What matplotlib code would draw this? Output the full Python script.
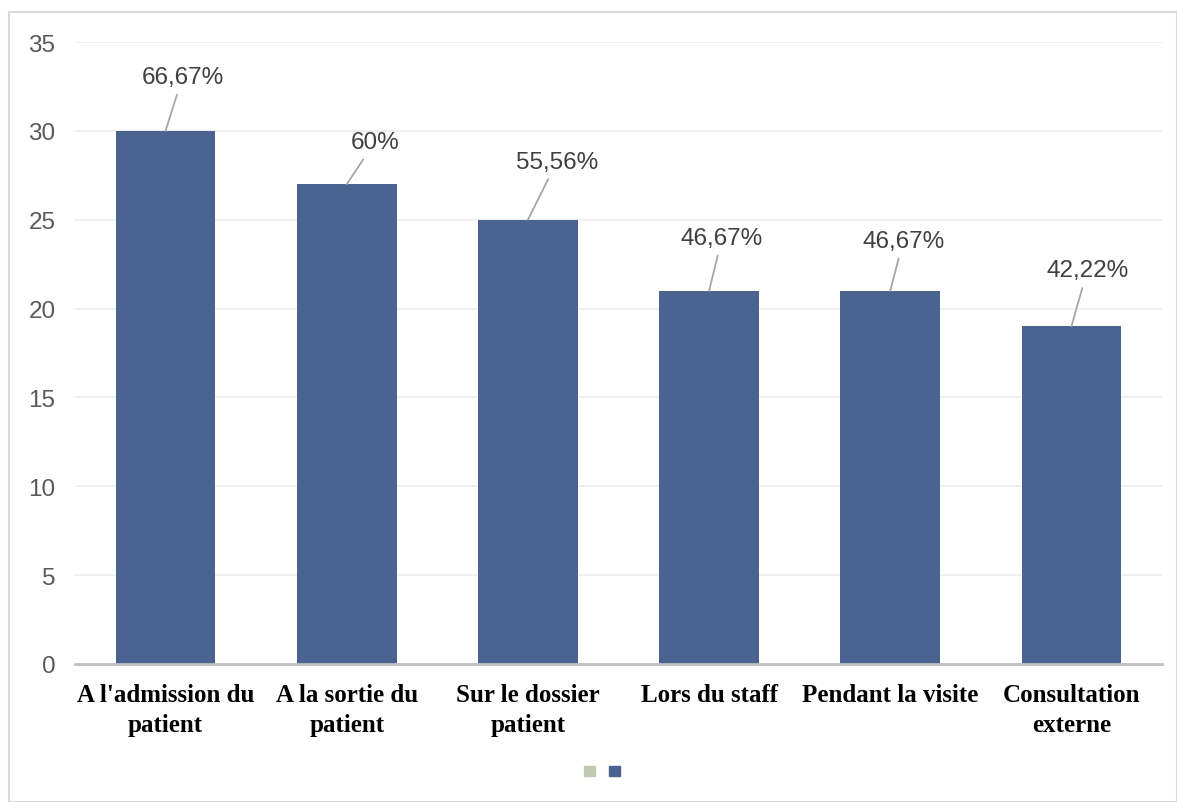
import matplotlib.pyplot as plt
from matplotlib.patches import Rectangle, Patch

# Moments where the information is given (counts out of 45 respondents)
categories = ["A l'admission du\npatient", "A la sortie du\npatient", "Sur le dossier\npatient",
              "Lors du staff", "Pendant la visite", "Consultation\nexterne"]
counts = [30, 27, 25, 21, 21, 19]
total = 45
yticks = [0, 5, 10, 15, 20, 25, 30, 35]

# label offsets (pixels) from the top of each bar
label_dx = [17, 28, 29, 13, 13, 16]
label_dy = [54, 42, 58, 53, 50, 56]

BAR_COLOR = '#4b6390'
LEG_COLOR = '#c0c9ad'


def pct_label(n):
    s = '%.2f' % (100.0 * n / total)
    s = s.rstrip('0').rstrip('.')
    return s.replace('.', ',') + '%'


fig = plt.figure(figsize=(11.77, 8.03), dpi=100)
fig.patches.append(Rectangle((9 / 1177, 0), 1 - 9 / 1177, 1 - 13 / 803, transform=fig.transFigure,
                             fill=False, edgecolor='#d9d9d9', linewidth=1.5))

ax = fig.add_axes([75 / 1177, 1 - 665 / 803, (1162 - 75) / 1177, (665 - 43) / 803])
x = list(range(len(categories)))
ax.bar(x, counts, width=0.55, color=BAR_COLOR, zorder=2)

for i, n in enumerate(counts):
    ax.annotate(pct_label(n), xy=(i, n), xytext=(label_dx[i], label_dy[i]),
                textcoords='offset pixels', ha='center', va='center',
                fontsize=17.5, color='#404040', family='Liberation Sans',
                arrowprops=dict(arrowstyle='-', color='#a6a6a6', lw=1.3,
                                shrinkA=3, shrinkB=0))

ax.set_xlim(-0.5, len(categories) - 0.5)
ax.set_ylim(0, 35)
ax.set_yticks(yticks)
ax.set_xticks(x)
ax.set_xticklabels(categories, family='Liberation Serif', fontweight='bold',
                   fontsize=18, color='black', linespacing=1.35)
for lab in ax.get_yticklabels():
    lab.set_family('Liberation Sans')
    lab.set_fontsize(17.5)
    lab.set_color('#595959')
ax.tick_params(axis='y', length=0, pad=14)
ax.tick_params(axis='x', length=0, pad=14)
ax.grid(axis='y', color='#ececec', linewidth=1.2, zorder=0)
for side in ['left', 'right', 'top']:
    ax.spines[side].set_visible(False)
ax.spines['bottom'].set_color('#bfbfbf')
ax.spines['bottom'].set_linewidth(2)
ax.spines['bottom'].set_zorder(3)

handles = [Patch(color=LEG_COLOR), Patch(color=BAR_COLOR)]
fig.legend(handles, ['', ''], loc='center', bbox_to_anchor=(602 / 1177, 1 - 773 / 803),
           ncol=2, frameon=False, handlelength=0.8, handleheight=0.8,
           handletextpad=0, columnspacing=1.0)

fig.savefig('out.png', dpi=100)
